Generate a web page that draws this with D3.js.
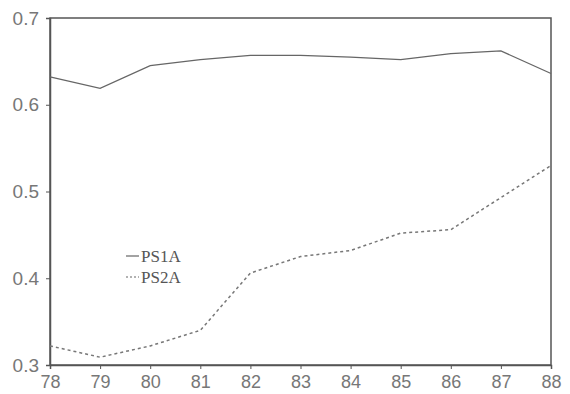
<!DOCTYPE html>
<html>
<head>
<meta charset="utf-8">
<script src="https://cdn.jsdelivr.net/npm/d3@7"></script>
<style>
  body { margin: 0; background: #fff; }
  .tick text { font-family: "Liberation Sans", Arial, sans-serif; fill: #777; }
</style>
</head>
<body>
<svg id="chart" width="570" height="394"></svg>
<script>
// years on the x axis
const years = [78, 79, 80, 81, 82, 83, 84, 85, 86, 87, 88];
const ps1a = [0.632, 0.619, 0.645, 0.652, 0.657, 0.657, 0.655, 0.652, 0.659, 0.662, 0.636];
const ps2a = [0.322, 0.309, 0.322, 0.340, 0.406, 0.425, 0.432, 0.452, 0.456, 0.493, 0.530];
const yTicks = [0.3, 0.4, 0.5, 0.6, 0.7];

const svg = d3.select("#chart");
const mLeft = 50, mRight = 551, mTop = 18, mBottom = 365;

const x = d3.scaleLinear().domain([78, 88]).range([mLeft, mRight]);
const y = d3.scaleLinear().domain([0.3, 0.7]).range([mBottom, mTop]);

// frame
svg.append("rect")
  .attr("x", mLeft).attr("y", mTop)
  .attr("width", mRight - mLeft).attr("height", mBottom - mTop)
  .attr("fill", "none").attr("stroke", "#555").attr("stroke-width", 1.5);

const xAxis = svg.append("g")
  .attr("transform", "translate(0," + mBottom + ")")
  .call(d3.axisBottom(x).tickValues(years).tickFormat(d3.format("d")).tickSize(4).tickPadding(6));
xAxis.selectAll(".tick text").attr("font-size", 18);

const yAxis = svg.append("g")
  .attr("transform", "translate(" + mLeft + ",0)")
  .call(d3.axisLeft(y).tickValues(yTicks).tickFormat(d3.format(".1f")).tickSize(4).tickPadding(7));
yAxis.selectAll(".tick text").attr("font-size", 19);

svg.selectAll(".domain").attr("stroke", "#555").attr("stroke-width", 1.5);
svg.selectAll(".tick line").attr("stroke", "#555");

const line = d3.line().x((d, i) => x(years[i])).y(d => y(d));

svg.append("path").datum(ps1a)
  .attr("d", line).attr("fill", "none")
  .attr("stroke", "#666").attr("stroke-width", 1.3);

svg.append("path").datum(ps2a)
  .attr("d", line).attr("fill", "none")
  .attr("stroke", "#777").attr("stroke-width", 1.5)
  .attr("stroke-dasharray", "3,3");

// legend
const legend = [
  { name: "PS1A", dash: null },
  { name: "PS2A", dash: "2,2" }
];
const lg = svg.append("g").attr("transform", "translate(126,262)");
legend.forEach((d, i) => {
  lg.append("line")
    .attr("x1", 0).attr("x2", 13)
    .attr("y1", i * 21 - 6).attr("y2", i * 21 - 6)
    .attr("stroke", "#666").attr("stroke-width", 1.2)
    .attr("stroke-dasharray", d.dash);
  lg.append("text")
    .attr("x", 15).attr("y", i * 21)
    .attr("font-family", "Liberation Serif, serif")
    .attr("font-size", 17).attr("fill", "#555")
    .text(d.name);
});
</script>
</body>
</html>
